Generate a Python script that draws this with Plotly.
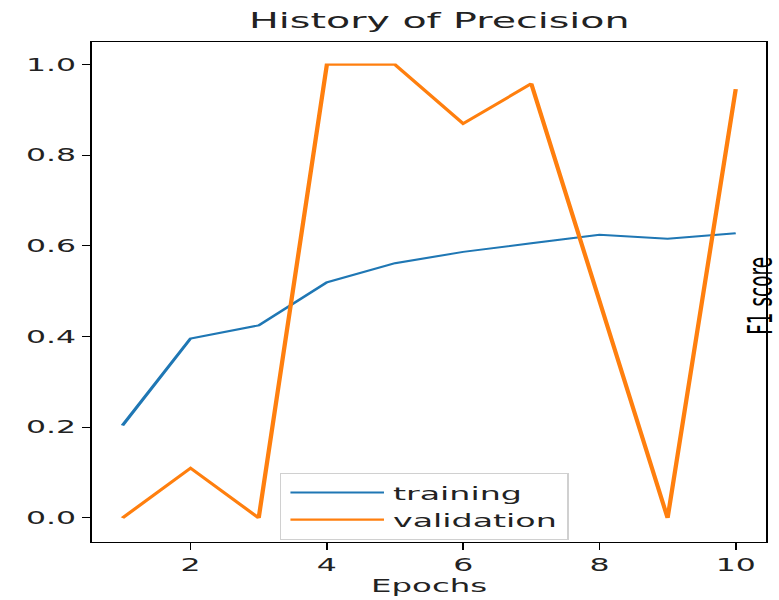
import plotly.graph_objects as go

# Per-epoch precision history
epochs = [1, 2, 3, 4, 5, 6, 7, 8, 9, 10]
training = [0.204, 0.396, 0.425, 0.520, 0.562, 0.587, 0.606, 0.625, 0.616, 0.628]
validation = [0.0, 0.110, 0.0, 1.0, 1.0, 0.870, 0.958, 0.475, 0.0, 0.946]

y_ticks = [0.0, 0.2, 0.4, 0.6, 0.8, 1.0]
y_tick_text = ["0.0", "0.2", "0.4", "0.6", "0.8", "1.0"]
x_ticks = [2, 4, 6, 8, 10]

FONT = "DejaVu Sans"
INK = "#222"

# The figure is laid out narrow and then widened on the page
PAGE_W, PAGE_H = 779, 600
FIG_W = 433
STRETCH = PAGE_W / FIG_W

fig = go.Figure()
fig.add_trace(go.Scatter(x=epochs, y=training, mode="lines", name="training",
                         line=dict(color="#1f77b4", width=2.0)))
fig.add_trace(go.Scatter(x=epochs, y=validation, mode="lines", name="validation",
                         line=dict(color="#ff7f0e", width=2.4)))

axis_common = dict(showline=True, linecolor="black", linewidth=1.4, mirror=True,
                   ticks="outside", tickwidth=1.3, tickcolor="black",
                   showgrid=False, zeroline=False,
                   tickfont=dict(family=FONT, size=17.5, color=INK))

fig.update_xaxes(range=[0.55, 10.45], tickvals=x_ticks, ticklen=7,
                 title=dict(text="Epochs", font=dict(family=FONT, size=18, color=INK), standoff=3),
                 **axis_common)
fig.update_yaxes(range=[-0.053, 1.05], tickvals=y_ticks, ticktext=y_tick_text, ticklen=4,
                 **axis_common)

# Side label drawn just inside the right spine
fig.add_annotation(text="F1 score", textangle=-90, xref="paper", yref="paper",
                   x=0.989, y=0.492, xanchor="center", yanchor="middle", showarrow=False,
                   font=dict(family=FONT, size=18.5, color="black"))

fig.update_layout(
    width=FIG_W, height=PAGE_H,
    margin=dict(l=51, r=7, t=42, b=58),
    paper_bgcolor="white", plot_bgcolor="white",
    title=dict(text="History of Precision", x=0.564, xanchor="center", y=0.966, yanchor="middle",
               font=dict(family=FONT, size=22, color=INK)),
    showlegend=True,
    legend=dict(x=0.2785, y=0.138, xanchor="left", yanchor="top",
                bgcolor="white", bordercolor="#d0d0d0", borderwidth=1,
                font=dict(family=FONT, size=18.5, color=INK), itemwidth=52,
                tracegroupgap=0),
)

widen = (
    "var gd=document.getElementById('{plot_id}');"
    "gd.style.transformOrigin='0 0';"
    "gd.style.transform='scaleX(%.5f)';" % STRETCH
)

fig.write_html("out.html", post_script=widen)
